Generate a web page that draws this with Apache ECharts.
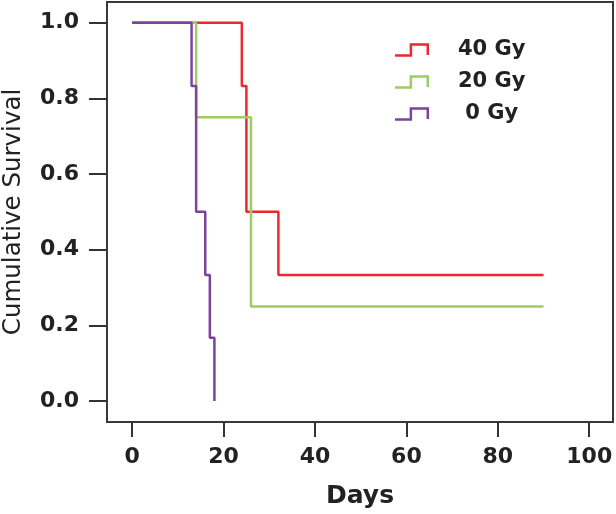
<!DOCTYPE html>
<html>
<head>
<meta charset="utf-8">
<script src="https://cdn.jsdelivr.net/npm/echarts@6/dist/echarts.min.js"></script>
<style>html,body{margin:0;padding:0;background:#fff}#chart{width:616px;height:514px}</style>
</head>
<body>
<div id="chart"></div>
<script>
// Kaplan-Meier step points (days, cumulative survival)
const days40 = [0, 24, 25, 32, 90];
const surv40 = [1.0, 0.833, 0.5, 0.333, 0.333];
const days20 = [0, 14, 26, 90];
const surv20 = [1.0, 0.75, 0.25, 0.25];
const days0 = [0, 13, 14, 16, 17, 18];
const surv0 = [1.0, 0.833, 0.5, 0.333, 0.167, 0.0];
const seriesNames = ['40 Gy', '20 Gy', ' 0 Gy'];
const xTicks = [0, 20, 40, 60, 80, 100];
const yTicks = [0, 0.2, 0.4, 0.6, 0.8, 1.0];

const colors = ['#e8292f', '#9dcc63', '#7b449c'];
const font = 'DejaVu Sans';
const zip = (a, b) => a.map((v, i) => [v, b[i]]);
const stepIcon = 'path://M0,11 L14.75,11 L14.75,0 L34.25,0 L34.25,11.75 L31.75,11.75 L31.75,2.5 L17.25,2.5 L17.25,13.5 L0,13.5 Z';

const chart = echarts.init(document.getElementById('chart'));
const mk = (name, data, color) => ({
  name, type: 'line', step: 'end', data, showSymbol: false, symbol: 'none',
  lineStyle: { color, width: 2.5 }, itemStyle: { color }
});
chart.setOption({
  animation: false,
  grid: { left: 107, top: 2, width: 506, height: 420, show: true, borderColor: '#3a3a3a', borderWidth: 2, containLabel: false, outerBoundsMode: 'none' },
  legend: {
    orient: 'vertical', left: 395, top: 39, padding: 0, itemGap: 10,
    itemWidth: 34, itemHeight: 13.5,
    data: seriesNames.map((n) => ({ name: n, icon: stepIcon })),
    textStyle: { fontFamily: font, fontWeight: 'bold', fontSize: 21, color: '#222', padding: [0, 0, 0, 24], lineHeight: 22 }
  },
  xAxis: {
    type: 'value', min: -5.5, max: 105.2,
    name: 'Days', nameLocation: 'middle', nameGap: 62,
    nameTextStyle: { fontFamily: font, fontWeight: 'bold', fontSize: 25, color: '#222' },
    axisLine: { show: false, onZero: false },
    axisTick: { show: true, length: 15, inside: false, customValues: xTicks, lineStyle: { color: '#333', width: 2 } },
    axisLabel: { customValues: xTicks, margin: 24, fontFamily: font, fontWeight: 'bold', fontSize: 22, color: '#222' },
    splitLine: { show: false }
  },
  yAxis: {
    type: 'value', min: -0.0556, max: 1.0548,
    name: 'Cumulative Survival', nameLocation: 'middle', nameGap: 81,
    nameTextStyle: { fontFamily: font, fontSize: 24.5, color: '#222' },
    axisLine: { show: false, onZero: false },
    axisTick: { show: true, length: 18, inside: false, customValues: yTicks, lineStyle: { color: '#333', width: 2 } },
    axisLabel: { customValues: yTicks, margin: 28, fontFamily: font, fontWeight: 'bold', fontSize: 22, color: '#222', formatter: (v) => v.toFixed(1) },
    splitLine: { show: false }
  },
  series: [
    mk(seriesNames[0], zip(days40, surv40), colors[0]),
    mk(seriesNames[1], zip(days20, surv20), colors[1]),
    mk(seriesNames[2], zip(days0, surv0), colors[2])
  ]
});
</script>
</body>
</html>
